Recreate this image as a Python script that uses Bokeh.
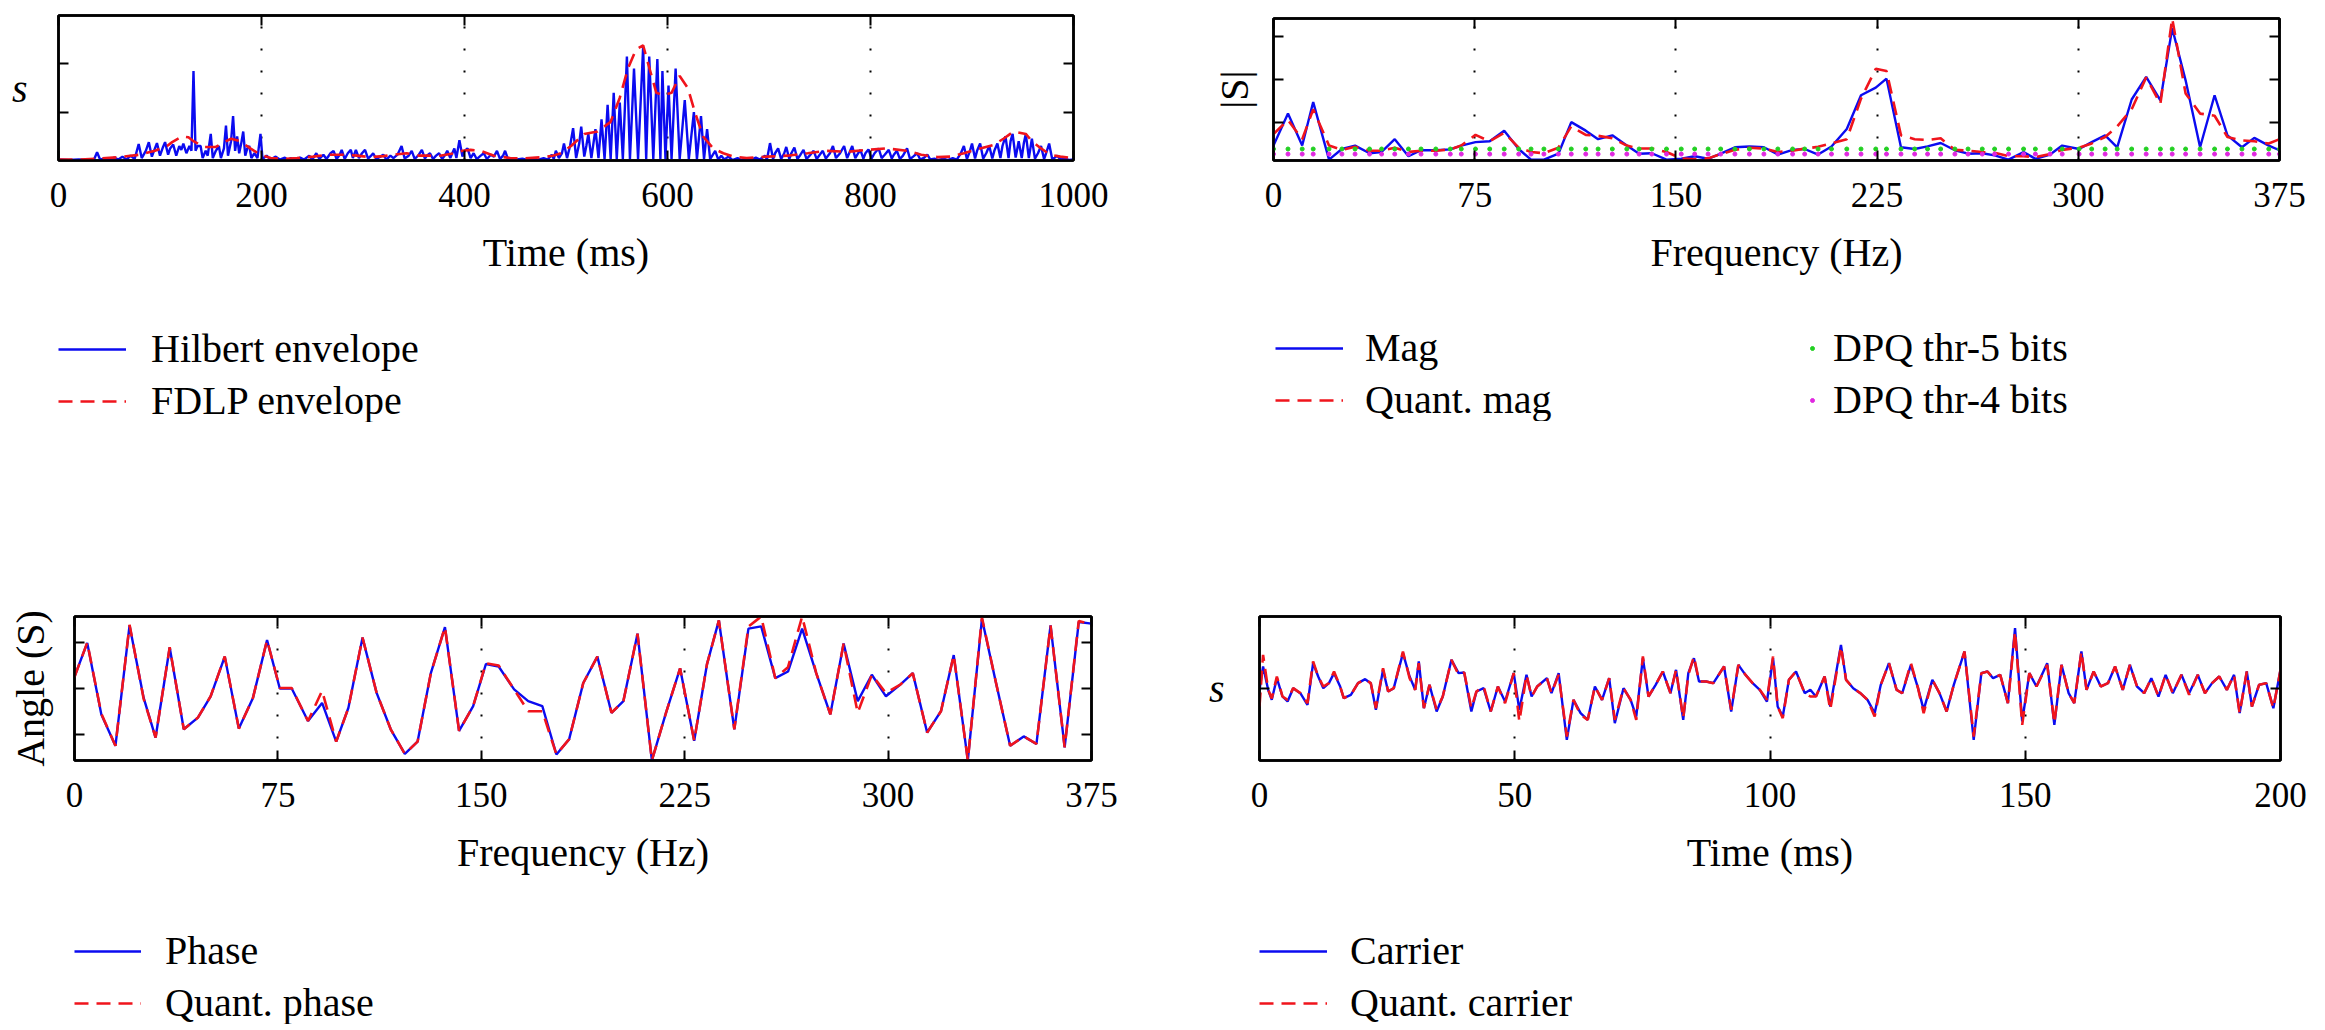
from bokeh.plotting import figure
from bokeh.models import Range1d, LinearAxis, FixedTicker, Legend, LegendItem
from bokeh.layouts import row, column
from bokeh.embed import file_html
from bokeh.resources import INLINE

# ---------------- data ----------------
# Top-left: Hilbert envelope (time ms, value)
hilbert_pts = [
    (0,0.02),(10,0.01),(20,0.02),(30,0.01),(35,0.02),(38,0.17),(41,0.02),(46,0.05),(50,0.01),(55,0.06),
    (59,0.02),(63,0.08),(67,0.02),(71,0.1),(75,0.03),(79,0.34),(82,0.05),(86,0.2),(89,0.38),(92,0.08),
    (95,0.25),(97,0.36),(100,0.1),(103,0.28),(105,0.38),(108,0.12),(110,0.25),(113,0.33),(116,0.1),(119,0.3),
    (121,0.22),(123,0.35),(126,0.15),(129,0.3),(131,0.2),(133,1.85),(135,0.2),(137,0.3),(140,0.3),(142,0.05),
    (145,0.2),(147,0.1),(150,0.55),(152,0.05),(155,0.2),(158,0.3),(160,0.05),(163,0.25),(165,0.72),(167,0.1),
    (170,0.4),(172,0.92),(174,0.2),(176,0.5),(178,0.15),(180,0.35),(182,0.6),(184,0.1),(186,0.25),(188,0.3),
    (190,0.05),(193,0.15),(196,0.05),(199,0.55),(201,0.03),(205,0.1),(209,0.02),(214,0.08),(218,0.02),(223,0.06),
    (226,0.01),(229,0.05),(233,0.01),(238,0.06),(242,0.02),(247,0.1),(250,0.02),(254,0.15),(257,0.03),(261,0.12),
    (264,0.03),(268,0.15),(271,0.2),(274,0.03),(277,0.12),(279,0.22),(282,0.03),(285,0.15),(288,0.22),(290,0.05),
    (293,0.22),(296,0.05),(299,0.15),(302,0.22),(305,0.04),(308,0.1),(310,0.15),(313,0.03),(317,0.08),(320,0.12),
    (323,0.02),(327,0.1),(330,0.05),(334,0.12),(338,0.3),(341,0.04),(345,0.1),(348,0.2),(351,0.03),(355,0.12),
    (358,0.22),(361,0.04),(363,0.1),(366,0.15),(369,0.03),(372,0.1),(375,0.15),(378,0.03),(381,0.12),(383,0.2),
    (386,0.05),(390,0.25),(392,0.05),(395,0.42),(398,0.08),(400,0.2),(403,0.25),(406,0.05),(409,0.15),(412,0.03),
    (416,0.1),(419,0.15),(422,0.03),(426,0.12),(429,0.08),(432,0.2),(435,0.03),(438,0.1),(440,0.2),(443,0.02),
    (447,0.05),(452,0.02),(457,0.04),(462,0.01),(467,0.03),(472,0.01),(478,0.05),(482,0.02),(486,0.12),(488,0.03),
    (490,0.2),(493,0.05),(496,0.15),(498,0.35),(501,0.05),(504,0.3),(507,0.67),(510,0.05),(513,0.35),(515,0.7),
    (518,0.08),(520,0.3),(522,0.55),(525,0.05),(527,0.35),(529,0.65),(532,0.05),(535,0.85),(538,0.03),(541,1.15),
    (544,0.03),(547,1.4),(550,0.03),(553,1.2),(556,0.03),(560,2.15),(563,0.03),(567,1.9),(571,0.03),(576,2.35),
    (579,0.03),(582,2.15),(586,0.03),(590,2.1),(593,0.03),(595,1.85),(598,0.03),(601,1.55),(604,0.03),(608,1.9),
    (612,0.03),(617,1.25),(621,0.03),(626,1.0),(629,0.03),(633,0.92),(636,0.03),(639,0.65),(642,0.03),(647,0.2),
    (650,0.02),(653,0.1),(656,0.02),(660,0.08),(664,0.01),(669,0.05),(673,0.01),(678,0.05),(682,0.01),(687,0.06),
    (691,0.02),(696,0.1),(698,0.02),(701,0.36),(704,0.03),(706,0.15),(709,0.25),(712,0.03),(715,0.15),(717,0.28),
    (720,0.03),(722,0.15),(725,0.27),(728,0.03),(731,0.12),(734,0.22),(737,0.03),(740,0.1),(744,0.2),(747,0.03),
    (750,0.12),(753,0.2),(756,0.04),(760,0.15),(763,0.3),(766,0.05),(770,0.15),(774,0.3),(777,0.05),(779,0.15),
    (782,0.3),(785,0.05),(787,0.12),(790,0.22),(793,0.04),(795,0.15),(798,0.23),(801,0.04),(804,0.15),(808,0.25),
    (811,0.05),(814,0.12),(818,0.22),(821,0.04),(823,0.12),(826,0.2),(829,0.03),(832,0.1),(836,0.25),(839,0.03),
    (842,0.08),(846,0.15),(849,0.02),(853,0.06),(856,0.12),(859,0.02),(863,0.04),(867,0.01),(872,0.04),(876,0.01),
    (881,0.05),(885,0.02),(889,0.15),(892,0.3),(895,0.03),(898,0.2),(900,0.35),(903,0.04),(905,0.2),(908,0.35),
    (911,0.04),(914,0.15),(917,0.3),(920,0.04),(922,0.2),(925,0.35),(928,0.05),(930,0.3),(933,0.5),(936,0.05),
    (938,0.4),(940,0.55),(943,0.06),(946,0.4),(949,0.05),(951,0.35),(953,0.55),(956,0.05),(959,0.45),(962,0.04),
    (965,0.15),(968,0.3),(971,0.03),(973,0.15),(976,0.35),(979,0.03),(981,0.05),(984,0.1),(987,0.02),(992,0.04),
    (996,0.01),(1000,0.02),
]
# Top-left: FDLP envelope (time ms, value)
fdlp_pts = [
    (0,0.02),(20,0.02),(40,0.04),(60,0.07),(80,0.12),(95,0.2),(107,0.3),(112,0.38),(122,0.5),(128,0.48),
    (133,0.4),(143,0.28),(155,0.28),(163,0.38),(170,0.45),(179,0.4),(189,0.25),(199,0.12),(209,0.05),(222,0.03),
    (235,0.05),(251,0.08),(265,0.12),(281,0.12),(294,0.1),(307,0.07),(320,0.09),(330,0.12),(343,0.15),(356,0.1),
    (376,0.1),(390,0.15),(398,0.2),(406,0.22),(416,0.2),(429,0.1),(445,0.05),(458,0.04),(478,0.07),(487,0.1),
    (495,0.15),(505,0.3),(518,0.55),(531,0.6),(544,0.8),(553,1.3),(561,1.9),(569,2.3),(576,2.38),(581,2.0),
    (589,1.4),(596,1.35),(604,1.4),(612,1.75),(620,1.5),(627,1.0),(635,0.5),(645,0.25),(655,0.15),(665,0.08),
    (678,0.05),(698,0.08),(718,0.1),(738,0.15),(757,0.2),(777,0.18),(797,0.22),(816,0.25),(836,0.2),(850,0.12),
    (866,0.07),(879,0.08),(892,0.15),(908,0.25),(921,0.32),(931,0.45),(941,0.6),(953,0.55),(959,0.4),(968,0.25),
    (977,0.12),(987,0.08),(1000,0.05),
]

# Top-right: spectrum magnitude on the frequency grid (Hz)
mag_freq = [0,5.4,10.7,14.8,20.7,25.5,30.4,35.8,40.3,45.2,
            50.3,55,60.5,65.9,70,75.3,80.6,86,91.4,96,
            100.8,106.2,111,116.4,121,126.3,131.7,136.3,141,146.5,
            152,157,162,166.7,172,177.4,182.8,188,193.5,198,
            203,208,213.7,219,224.5,228.5,233.9,239,243.8,248.7,
            254,258.9,264.2,268.8,274,279.6,284,289.5,294,300.3,
            305,310,314.5,319.9,325.3,330.6,335,340,345.4,350.8,
            355.6,361,365.6,371,375]
mag = [0.45,1.2,0.45,1.47,0.12,0.37,0.45,0.27,0.3,0.6,
       0.2,0.34,0.34,0.36,0.45,0.53,0.55,0.8,0.37,0.12,
       0.12,0.26,1.0,0.8,0.6,0.69,0.45,0.26,0.27,0.12,
       0.14,0.2,0.14,0.26,0.41,0.43,0.41,0.24,0.35,0.37,
       0.24,0.43,0.84,1.63,1.81,2.02,0.41,0.37,0.43,0.51,
       0.34,0.26,0.27,0.22,0.12,0.3,0.14,0.24,0.45,0.37,
       0.53,0.69,0.41,1.53,2.06,1.51,3.2,1.98,0.41,1.63,
       0.69,0.41,0.63,0.45,0.34]
quant_mag = [0.72,1.05,0.6,1.3,0.45,0.35,0.42,0.33,0.33,0.4,
             0.3,0.33,0.33,0.36,0.45,0.7,0.55,0.75,0.4,0.3,
             0.27,0.4,0.9,0.7,0.68,0.62,0.45,0.38,0.38,0.3,
             0.15,0.13,0.15,0.25,0.35,0.4,0.38,0.3,0.33,0.38,
             0.42,0.5,0.6,1.55,2.25,2.2,0.69,0.6,0.58,0.62,
             0.35,0.33,0.3,0.28,0.2,0.2,0.18,0.25,0.35,0.4,
             0.5,0.65,0.9,1.3,2.05,1.43,3.43,1.67,1.2,1.15,
             0.65,0.57,0.55,0.5,0.6]
dpq_thr5_level = 0.37
dpq_thr4_level = 0.25

# Bottom-left: phase (Hz, rad)
phase_freq = [0,4.7,9.9,15.1,20.3,25.5,29.9,35.1,40.3,45.5,
              50.2,55.4,60.6,65.8,71,75.7,80.1,86.1,91.3,96.5,
              101,106.2,111.4,116.6,121.8,126.5,131.4,136.6,141.8,147,
              151.7,156.4,162.1,167.3,172.5,177.7,182.4,187.6,192.8,198,
              202.4,207.6,212.9,218.1,223.3,228.5,233.2,237.6,243.3,248.5,
              253.2,258.4,263.1,268.3,273.5,278.7,283.6,288.8,294,299.2,
              304.5,309.1,314.4,319.5,324.2,329.4,334.6,339.8,345,350,
              354.7,359.9,365.1,370.3,375]
phase = [0.52,1.99,-1.13,-2.5,2.75,-0.41,-2.14,1.79,-1.78,-1.27,
         -0.34,1.39,-1.75,-0.41,2.11,0.0,0.0,-1.42,-0.63,-2.32,
         -0.84,2.22,-0.19,-1.78,-2.85,-2.32,0.67,2.68,-1.85,-0.77,
         1.07,0.96,-0.04,-0.55,-0.77,-2.88,-2.21,0.24,1.39,-1.06,
         -0.55,2.39,-3.14,-1.06,0.88,-2.28,1.05,2.97,-1.78,2.61,
         2.71,0.45,0.74,2.61,0.67,-1.13,1.96,-0.55,0.6,-0.34,
         0.17,0.67,-1.92,-0.99,1.46,-3.14,3.04,0.24,-2.5,-2.09,
         -2.42,2.75,-2.57,2.9,2.83]
quant_phase = [0.5,2.0,-1.1,-2.5,2.78,-0.45,-2.14,1.8,-1.78,-1.27,
               -0.34,1.4,-1.75,-0.41,2.11,0.02,0.02,-1.42,-0.1,-2.32,
               -0.84,2.22,-0.19,-1.78,-2.85,-2.32,0.67,2.68,-1.85,-0.77,
               1.1,1.0,-0.04,-0.99,-0.99,-2.88,-2.21,0.24,1.39,-1.06,
               -0.55,2.39,-3.14,-1.06,0.88,-2.28,1.05,2.97,-1.78,2.7,
               3.14,0.45,0.93,3.14,0.67,-1.13,1.96,-1.06,0.6,-0.2,
               0.17,0.67,-1.92,-0.99,1.46,-3.14,3.1,0.24,-2.5,-2.09,
               -2.42,2.75,-2.57,2.95,2.78]

# Bottom-right: carrier (time ms, amplitude, arbitrary units)
carrier_pts = [
    (0.0,-4),(0.7,66),(1.7,-4),(2.4,-34),(3.4,31),(4.5,-24),(5.5,-39),(6.6,1),(8.0,-14),(9.4,-49),
    (10.5,76),(11.5,36),(12.5,1),(13.6,16),(14.6,46),(15.8,6),(16.5,-29),(17.9,-19),(19.3,16),(20.7,28),
    (21.8,16),(22.8,-64),(24.2,56),(25.2,-9),(26.3,1),(28.1,106),(29.4,36),(30.5,-4),(31.2,81),(32.2,-59),
    (33.3,11),(34.7,-69),(35.9,-24),(37.6,86),(39.0,46),(40.1,48),(41.5,-69),(42.5,-9),(43.9,1),(45.3,-69),
    (46.7,6),(48.1,-39),(49.8,46),(50.9,-64),(52.3,41),(53.3,-24),(54.4,6),(56.3,31),(57.2,-14),(58.6,46),
    (60.2,-154),(61.5,-34),(62.9,-74),(64.3,-94),(65.7,6),(67.1,-34),(68.5,31),(69.6,-104),(71.3,1),(72.7,-34),
    (73.8,-84),(75.1,91),(76.2,-24),(77.6,11),(79.0,51),(80.5,-14),(81.6,56),(83.0,-94),(84.0,46),(85.1,91),
    (86.1,21),(87.5,21),(88.9,16),(91.0,66),(92.4,-69),(93.8,71),(95.2,41),(96.6,16),(98.0,-4),(99.4,-39),
    (100.6,91),(101.5,-54),(102.5,-84),(103.7,26),(105.1,51),(106.8,-14),(107.9,-4),(109.0,-24),(110.7,36),(111.8,-54),
    (113.9,131),(114.9,26),(116.3,1),(117.7,-14),(119.1,-34),(120.5,-74),(121.7,11),(123.3,76),(124.8,-4),(125.9,-14),
    (127.6,71),(129.0,1),(130.1,-64),(131.8,26),(133.2,-14),(134.6,-69),(136.0,11),(138.1,111),(139.9,-154),(141.4,46),
    (142.6,51),(143.7,31),(145.1,41),(146.6,-44),(148.0,181),(149.4,-99),(150.8,46),(152.2,6),(154.3,76),(155.7,-109),
    (157.1,71),(158.5,-14),(159.6,-44),(161.0,111),(162.0,-4),(163.4,51),(164.8,6),(166.2,16),(167.6,66),(169.1,-4),
    (170.5,71),(171.9,6),(173.3,-14),(174.7,31),(176.1,-24),(177.5,41),(178.9,-14),(180.6,41),(182.1,-14),(183.8,41),
    (185.2,-14),(186.6,16),(188.0,36),(189.5,-4),(190.9,41),(192.0,-74),(193.4,51),(194.4,-54),(195.8,11),(197.2,16),
    (198.6,-59),(200.0,56),
]
quant_carrier_pts = [
    (0.0,-54),(0.7,101),(1.7,-4),(2.4,-30),(3.4,36),(4.5,-24),(5.5,-34),(6.6,1),(8.0,-14),(9.4,-44),
    (10.5,81),(11.5,36),(12.5,6),(13.6,16),(14.6,51),(15.8,6),(16.5,-29),(17.9,-19),(19.3,16),(20.7,28),
    (21.8,16),(22.8,-59),(24.2,61),(25.2,-9),(26.3,1),(28.1,111),(29.4,31),(30.5,-4),(31.2,76),(32.2,-59),
    (33.3,11),(34.7,-64),(35.9,-24),(37.6,86),(39.0,41),(40.1,48),(41.5,-59),(42.5,-9),(43.9,6),(45.3,-69),
    (46.7,6),(48.1,-44),(49.8,46),(50.9,-99),(52.3,41),(53.3,-24),(54.4,6),(56.3,31),(57.2,-14),(58.6,41),
    (60.2,-144),(61.5,-34),(62.9,-79),(64.3,-94),(65.7,6),(67.1,-34),(68.5,31),(69.6,-94),(71.3,1),(72.7,-34),
    (73.8,-94),(75.1,96),(76.2,-24),(77.6,11),(79.0,51),(80.5,-14),(81.6,56),(83.0,-89),(84.0,41),(85.1,96),
    (86.1,21),(87.5,21),(88.9,16),(91.0,66),(92.4,-64),(93.8,71),(95.2,41),(96.6,16),(98.0,-4),(99.4,-34),
    (100.6,96),(101.5,-54),(102.5,-89),(103.7,26),(105.1,51),(106.8,-14),(107.9,-24),(109.0,-24),(110.7,36),(111.8,-64),
    (113.9,126),(114.9,26),(116.3,1),(117.7,-14),(119.1,-34),(120.5,-84),(121.7,11),(123.3,76),(124.8,-4),(125.9,-14),
    (127.6,76),(129.0,1),(130.1,-74),(131.8,26),(133.2,-14),(134.6,-69),(136.0,11),(138.1,111),(139.9,-144),(141.4,46),
    (142.6,51),(143.7,31),(145.1,41),(146.6,-44),(148.0,171),(149.4,-109),(150.8,46),(152.2,6),(154.3,71),(155.7,-104),
    (157.1,71),(158.5,-14),(159.6,-44),(161.0,111),(162.0,-4),(163.4,51),(164.8,6),(166.2,16),(167.6,66),(169.1,-4),
    (170.5,71),(171.9,6),(173.3,-14),(174.7,31),(176.1,-24),(177.5,41),(178.9,-14),(180.6,41),(182.1,-19),(183.8,41),
    (185.2,-14),(186.6,16),(188.0,36),(189.5,-4),(190.9,41),(192.0,-74),(193.4,51),(194.4,-54),(195.8,11),(197.2,16),
    (198.6,-59),(200.0,56),
]

# ticks
tl_xticks = [0, 200, 400, 600, 800, 1000]
hz_xticks = [0, 75, 150, 225, 300, 375]
br_xticks = [0, 50, 100, 150, 200]
tl_yticks = [1, 2]
tr_yticks = [1, 2, 3]
bl_yticks = [-2, 0, 2]
br_yticks = [0]

# ---------------- styling ----------------
FONT = "Liberation Serif"
TICK_PX = "35px"
LABEL_PX = "40px"
BLUE = "#0b0bf0"
RED = "#f0141c"
GREEN = "#22d022"
MAGENTA = "#e028e0"
DASH = "14 8"
LEG_H = 97
NAN = float("nan")


def style_axis(ax, ticks, hide_labels):
    ax.ticker = FixedTicker(ticks=ticks)
    ax.major_tick_in = 10
    ax.major_tick_out = 0
    ax.minor_tick_line_color = None
    ax.major_tick_line_color = "black"
    ax.major_tick_line_width = 2
    ax.axis_line_color = "black"
    ax.axis_line_width = 2.5
    ax.major_label_text_font = FONT
    ax.major_label_text_font_size = TICK_PX
    ax.major_label_text_color = None if hide_labels else "black"
    ax.axis_label_text_font = FONT
    ax.axis_label_text_font_size = LABEL_PX
    ax.axis_label_text_font_style = "normal"
    ax.axis_label_text_color = "black"


def make_panel(xr, yr, xticks, yticks, frame, borders, xlabel, ylabel,
               ylabel_horizontal, ylabel_italic, ylabel_standoff):
    fw, fh = frame
    bl, bt, br, bb = borders
    p = figure(output_backend="svg", toolbar_location=None, tools="",
               frame_width=fw, frame_height=fh,
               min_border_left=bl, min_border_top=bt,
               min_border_right=br, min_border_bottom=bb,
               x_range=Range1d(*xr), y_range=Range1d(*yr))
    p.outline_line_color = "black"
    p.outline_line_width = 2.5
    p.background_fill_color = "white"
    p.border_fill_color = "white"
    xa = p.xaxis[0]
    style_axis(xa, xticks, False)
    xa.major_label_standoff = 22
    xa.axis_label = xlabel
    xa.axis_label_standoff = 20
    ya = p.yaxis[0]
    style_axis(ya, yticks, True)
    ya.major_label_standoff = 0
    ya.axis_label = ylabel
    ya.axis_label_standoff = ylabel_standoff
    if ylabel_horizontal:
        ya.axis_label_orientation = "horizontal"
    if ylabel_italic:
        ya.axis_label_text_font_style = "italic"
    top = LinearAxis()
    style_axis(top, xticks, True)
    top.major_label_standoff = 0
    p.add_layout(top, "above")
    right = LinearAxis()
    style_axis(right, yticks, True)
    right.major_label_standoff = 0
    p.add_layout(right, "right")
    p.xgrid.ticker = FixedTicker(ticks=xticks)
    p.xgrid.grid_line_color = "black"
    p.xgrid.grid_line_width = 2
    p.xgrid.grid_line_dash = "2 20"
    p.ygrid.grid_line_color = None
    return p


def legend_box(left, width, entries, glyph_w, standoff):
    """A strip under a panel holding only its legend; the keys are drawn by Bokeh."""
    lf = figure(output_backend="svg", toolbar_location=None, tools="",
                x_axis_type=None, y_axis_type=None,
                frame_width=width, frame_height=LEG_H,
                min_border_left=left, min_border_right=0,
                min_border_top=0, min_border_bottom=0,
                x_range=Range1d(0, 1), y_range=Range1d(0, 1))
    lf.outline_line_color = None
    lf.background_fill_color = None
    lf.border_fill_color = None
    items = []
    for label, kind, color in entries:
        if kind == "solid":
            r = lf.line(x=[NAN], y=[NAN], line_color=color, line_width=2.4)
        elif kind == "dashed":
            r = lf.line(x=[NAN], y=[NAN], line_color=color, line_width=2.6, line_dash=DASH)
        else:
            r = lf.scatter(x=[NAN], y=[NAN], marker="circle", size=4,
                           fill_color=color, line_color=color)
        items.append(LegendItem(label=label, renderers=[r]))
    leg = Legend(items=items, location="top_left", orientation="vertical",
                 padding=0, margin=0, spacing=5,
                 glyph_width=glyph_w, glyph_height=46, label_height=46,
                 label_standoff=standoff, label_text_font=FONT,
                 label_text_font_size=LABEL_PX, label_text_color="black",
                 border_line_color=None, background_fill_color=None,
                 background_fill_alpha=0)
    lf.add_layout(leg)
    return lf


# ---------------- top-left ----------------
tl = make_panel((0, 1000), (0, 3), tl_xticks, tl_yticks, (1015, 145), (58, 15, 85, 165),
                "Time (ms)", "s", True, True, 31)
tl.line([t for t, _ in hilbert_pts], [v for _, v in hilbert_pts],
        line_color=BLUE, line_width=2.4)
tl.line([t for t, _ in fdlp_pts], [v for _, v in fdlp_pts],
        line_color=RED, line_width=2.6, line_dash=DASH)
tl_leg = legend_box(58, 1100, [("Hilbert envelope", "solid", BLUE),
                               ("FDLP envelope", "dashed", RED)], 68, 25)

# ---------------- top-right ----------------
tr = make_panel((0, 375), (0.1, 3.43), hz_xticks, tr_yticks, (1006, 142), (115, 18, 44, 164),
                "Frequency (Hz)", "|S|", False, False, 17)
tr.line(mag_freq, mag, line_color=BLUE, line_width=2.4)
tr.line(mag_freq, quant_mag, line_color=RED, line_width=2.6, line_dash=DASH)
tr.scatter(mag_freq, [dpq_thr5_level for _ in mag_freq], size=4,
           marker="circle", fill_color=GREEN, line_color=GREEN)
tr.scatter(mag_freq, [dpq_thr4_level for _ in mag_freq], size=4,
           marker="circle", fill_color=MAGENTA, line_color=MAGENTA)
tr_leg_a = legend_box(117, 473, [("Mag", "solid", BLUE),
                                 ("Quant. mag", "dashed", RED)], 68, 22)
tr_leg_b = legend_box(59, 516, [("DPQ thr-5 bits", "dot", GREEN),
                                ("DPQ thr-4 bits", "dot", MAGENTA)], 10, 16)

# ---------------- bottom-left ----------------
bl = make_panel((0, 375), (-3.1416, 3.1416), hz_xticks, bl_yticks, (1017, 144), (74, 194, 67, 167),
                "Frequency (Hz)", "Angle (S)", False, False, 22)
bl.line(phase_freq, phase, line_color=BLUE, line_width=2.4)
bl.line(phase_freq, quant_phase, line_color=RED, line_width=2.6, line_dash=DASH)
bl_leg = legend_box(74, 1084, [("Phase", "solid", BLUE),
                               ("Quant. phase", "dashed", RED)], 67, 24)

# ---------------- bottom-right ----------------
br = make_panel((0, 200), (-216, 216), br_xticks, br_yticks, (1021, 144), (101, 195, 43, 167),
                "Time (ms)", "s", True, True, 35)
br.line([t for t, _ in carrier_pts], [v for _, v in carrier_pts],
        line_color=BLUE, line_width=2.4)
br.line([t for t, _ in quant_carrier_pts], [v for _, v in quant_carrier_pts],
        line_color=RED, line_width=2.6, line_dash=DASH)
br_leg = legend_box(101, 1064, [("Carrier", "solid", BLUE),
                                ("Quant. carrier", "dashed", RED)], 68, 23)

# every block sits in its own row so that the column does not line up their frames
layout = row(column(row(tl), row(tl_leg), row(bl), row(bl_leg)),
             column(row(tr), row(tr_leg_a, tr_leg_b), row(br), row(br_leg)))
open("out.html", "w").write(file_html(layout, INLINE))
